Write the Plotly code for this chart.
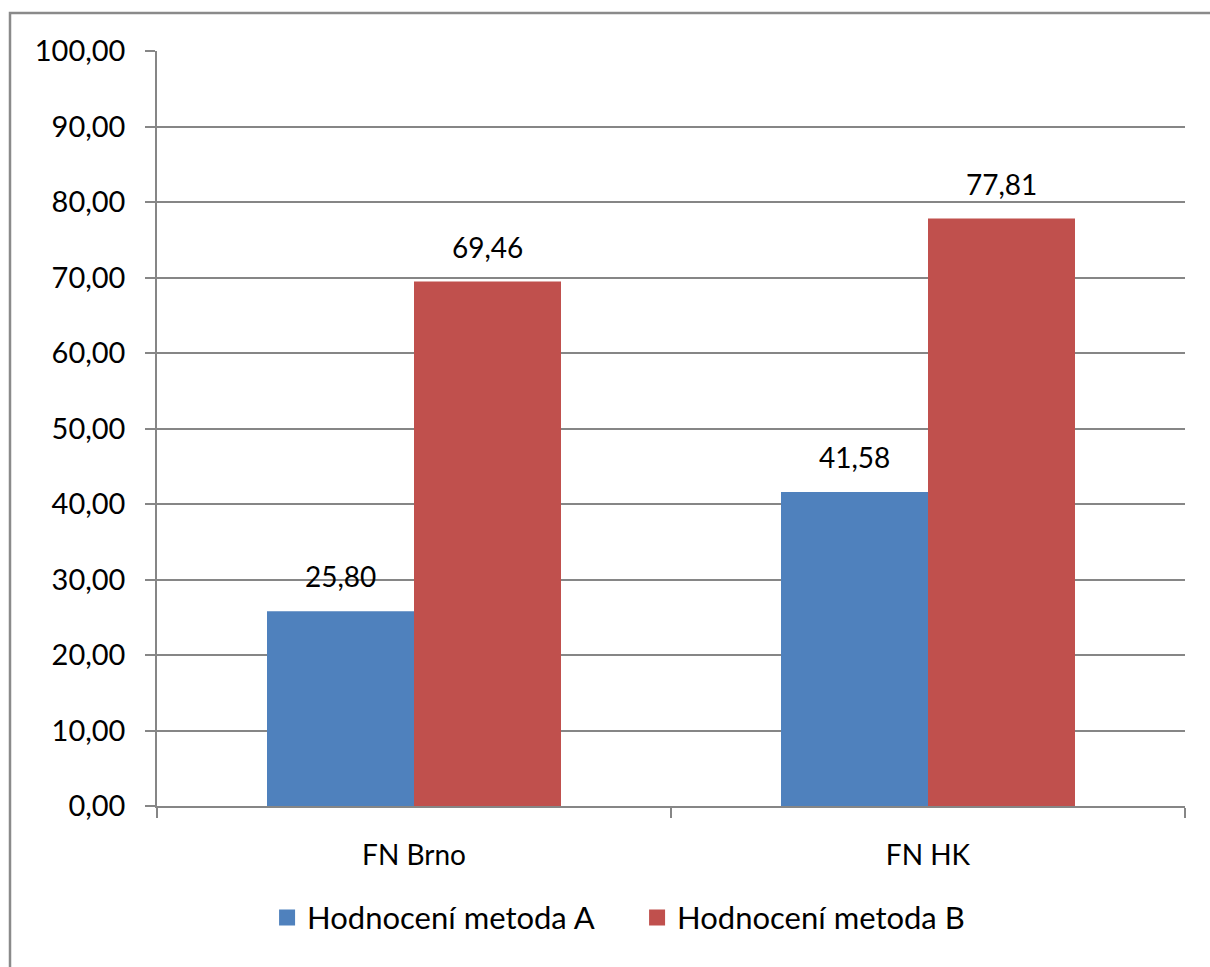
import plotly.graph_objects as go

categories = ["FN Brno", "FN HK"]
series_names = ["Hodnocení metoda A", "Hodnocení metoda B"]
values_a = [25.80, 41.58]
values_b = [69.46, 77.81]
colors = ["#4F81BD", "#C0504D"]
y_ticks = [0, 10, 20, 30, 40, 50, 60, 70, 80, 90, 100]

FONT = "Lato"
W, H = 1210, 967
L, R, T, B = 157, 25, 51, 161

fig = go.Figure()
for name, vals, col in zip(series_names, [values_a, values_b], colors):
    fig.add_trace(go.Bar(x=categories, y=vals, name=name, showlegend=False,
                         marker=dict(color=col, line=dict(width=0))))
# legend entries with larger square swatches
for name, col in zip(series_names, colors):
    fig.add_trace(go.Scatter(x=[None], y=[None], mode="markers", name=name,
                             marker=dict(symbol="square", size=18, color=col)))

# data labels
plot_w = W - L - R
cat_w = plot_w / len(categories)
bargap = 0.428
bar_w = cat_w * (1 - bargap) / 2
for i, vals in enumerate([values_a, values_b]):
    off = (i - 0.5) * bar_w
    for c, v in zip(categories, vals):
        fig.add_annotation(x=c, y=v, text=f"{v:.2f}".replace(".", ","), showarrow=False,
                           xshift=off, yshift=16, yanchor="bottom",
                           font=dict(family=FONT, size=28, color="#000000"))

# outer chart frame (left and top edges visible)
fx0 = (10 - L) / plot_w
fy1 = 1 + (T - 13) / (H - T - B)
fx1 = 1 + (R + 5) / plot_w
fy0 = -(B + 5) / (H - T - B)
fig.add_shape(type="rect", xref="paper", yref="paper", x0=fx0, x1=fx1, y0=fy0, y1=fy1,
              line=dict(color="#8A8A8A", width=2.5), layer="below")

fig.update_layout(
    width=W, height=H,
    margin=dict(l=L, r=R, t=T, b=B),
    paper_bgcolor="white", plot_bgcolor="white",
    separators=", ",
    barmode="group", bargap=bargap, bargroupgap=0,
    font=dict(family=FONT, size=28, color="#000000"),
    showlegend=True,
    legend=dict(orientation="h", x=0.467, xanchor="center", y=-0.148, yanchor="middle",
                font=dict(family=FONT, size=31), itemwidth=30, entrywidth=325,
                traceorder="normal"),
    xaxis=dict(showline=True, linecolor="#868686", linewidth=1.5, ticks="outside", ticklen=10,
               tickcolor="#868686", tickwidth=1.5, tickson="boundaries", showgrid=False,
               ticklabelstandoff=24, tickfont=dict(family=FONT, size=28)),
    yaxis=dict(range=[0, 100], tickvals=y_ticks, tickformat=".2f", showline=True,
               linecolor="#868686", linewidth=1.5, ticks="outside", ticklen=10,
               tickcolor="#868686", tickwidth=1.5, showgrid=True, gridcolor="#868686",
               gridwidth=1.5, zeroline=False, ticklabelstandoff=14,
               tickfont=dict(family=FONT, size=29)),
)

fig.write_html("out.html")
